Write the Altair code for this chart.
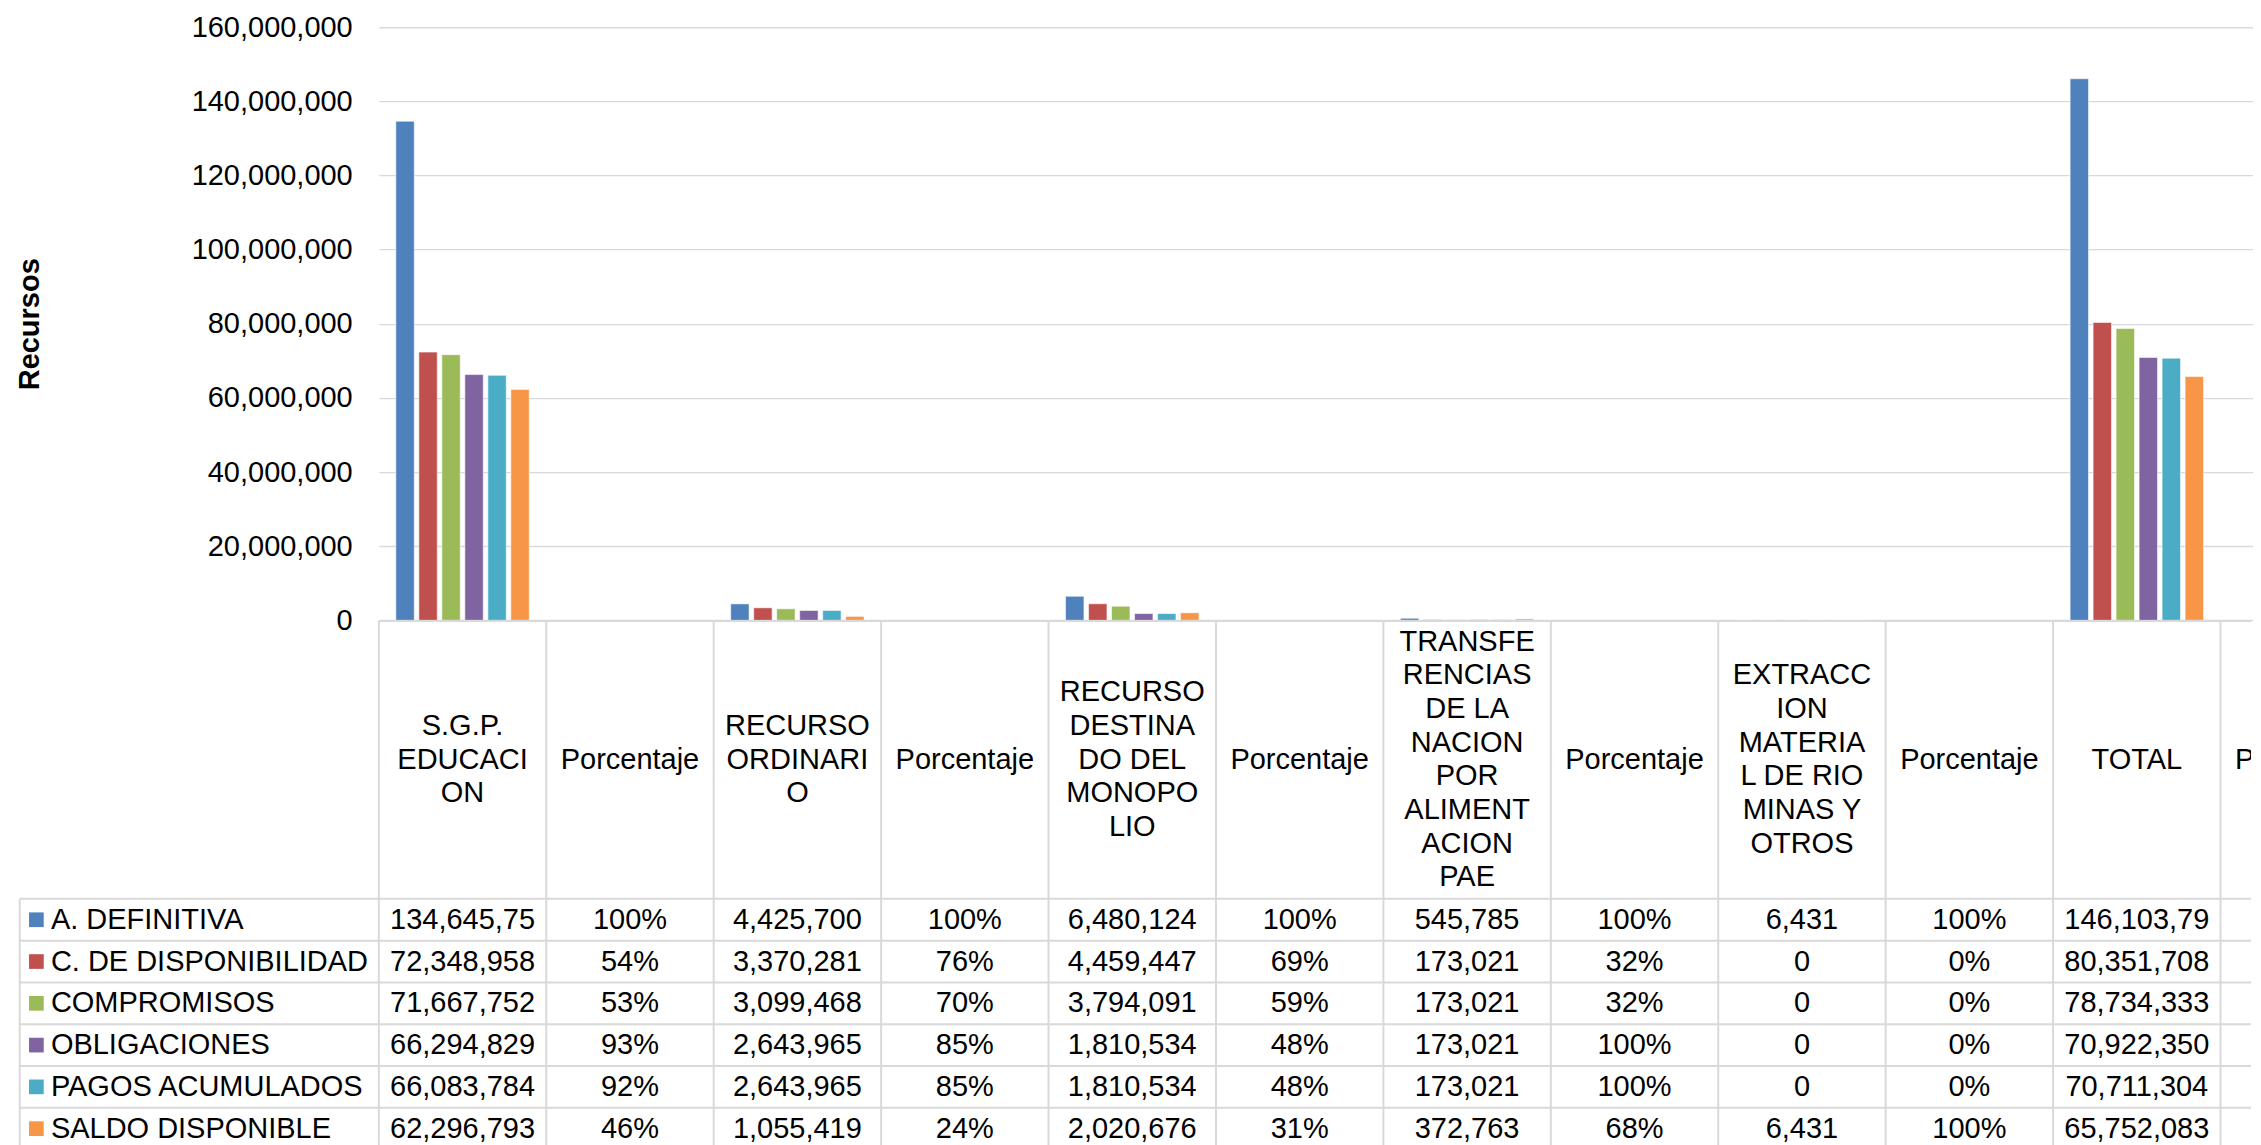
import altair as alt
import pandas as pd

# ---------------- data ----------------
cat_ids = [f"c{i}" for i in range(12)]
cat_labels = [
    "S.G.P.\nEDUCACI\nON", "Porcentaje",
    "RECURSO\nORDINARI\nO", "Porcentaje",
    "RECURSO\nDESTINA\nDO DEL\nMONOPO\nLIO", "Porcentaje",
    "TRANSFE\nRENCIAS\nDE LA\nNACION\nPOR\nALIMENT\nACION\nPAE", "Porcentaje",
    "EXTRACC\nION\nMATERIA\nL DE RIO\nMINAS Y\nOTROS", "Porcentaje",
    "TOTAL", "Porcentaje",
]
series = ["A. DEFINITIVA", "C. DE DISPONIBILIDAD", "COMPROMISOS",
          "OBLIGACIONES", "PAGOS ACUMULADOS", "SALDO DISPONIBLE"]
colors = ["#4F81BD", "#C0504D", "#9BBB59", "#8064A2", "#4BACC6", "#F79646"]

sgp = [134645750, 72348958, 71667752, 66294829, 66083784, 62296793]
ordinario = [4425700, 3370281, 3099468, 2643965, 2643965, 1055419]
destinado = [6480124, 4459447, 3794091, 1810534, 1810534, 2020676]
pae = [545785, 173021, 173021, 173021, 173021, 372763]
extraccion = [6431, 0, 0, 0, 0, 6431]
total = [146103790, 80351708, 78734333, 70922350, 70711304, 65752083]

pct_sgp = ["100%", "54%", "53%", "93%", "92%", "46%"]
pct_ord = ["100%", "76%", "70%", "85%", "85%", "24%"]
pct_dest = ["100%", "69%", "59%", "48%", "48%", "31%"]
pct_pae = ["100%", "32%", "32%", "100%", "100%", "68%"]
pct_ext = ["100%", "0%", "0%", "0%", "0%", "100%"]
pct_tot = ["100%", "55%", "54%", "90%", "90%", "45%"]

y_ticks = [0, 20000000, 40000000, 60000000, 80000000, 100000000,
           120000000, 140000000, 160000000]

value_cols = {"c0": sgp, "c2": ordinario, "c4": destinado,
              "c6": pae, "c8": extraccion, "c10": total}
pct_cols = {"c1": pct_sgp, "c3": pct_ord, "c5": pct_dest,
            "c7": pct_pae, "c9": pct_ext, "c11": pct_tot}

# ---------------- layout constants ----------------
FONT = "Liberation Sans"
FS = 29
LINE_H = 33.7
GRID = "#D9D9D9"
FULL_W = 2010          # width of the 12 table columns
W = 1873               # visible plot width (the chart is cut at the window edge)
H_BARS = 593.3
H_HEAD = 277.3
ROW_H = 41.8
H_ROWS = ROW_H * 6
LEG_W = 359.3

# ---------------- tables ----------------
bar_rows = []
for cid, vals in value_cols.items():
    for s, v in zip(series, vals):
        bar_rows.append({"cat": cid, "serie": s, "valor": v})
df_bars = pd.DataFrame(bar_rows)

df_header = pd.DataFrame({
    "cat": cat_ids,
    "label": cat_labels,
    "fila": "h",
    "n": [lbl.count("\n") + 1 for lbl in cat_labels],
})

cell_rows = []
for cid in cat_ids:
    if cid in value_cols:
        texts = [f"{v:,}"[:10] for v in value_cols[cid]]  # Excel clips wide cells
    else:
        texts = pct_cols[cid]
    for s, t in zip(series, texts):
        cell_rows.append({"cat": cid, "serie": s, "texto": t})
df_cells = pd.DataFrame(cell_rows)
df_cats = pd.DataFrame({"cat": cat_ids})
df_series = pd.DataFrame({"serie": series})

x_scale = alt.Scale(domain=cat_ids, range=[0, FULL_W], paddingInner=0, paddingOuter=0)
y_rows_scale = alt.Scale(domain=series, paddingInner=0, paddingOuter=0)
color_scale = alt.Scale(domain=series, range=colors)

# ---------------- bar chart ----------------
bars = alt.Chart(df_bars).mark_bar(stroke="white", strokeWidth=0.8, strokeOpacity=0.7).encode(
    x=alt.X("cat:N", scale=x_scale, axis=None),
    xOffset=alt.XOffset("serie:N", sort=series,
                        scale=alt.Scale(domain=series, paddingInner=0.2, paddingOuter=0.74)),
    y=alt.Y("valor:Q", scale=alt.Scale(domain=[0, 160000000]),
            axis=alt.Axis(values=y_ticks, format=",d", grid=True, gridColor=GRID,
                          gridWidth=1.3, domain=False, ticks=False, labelPadding=26.6,
                          labelFontSize=FS, labelFont=FONT, labelColor="black",
                          title="Recursos", titleFont=FONT, titleFontSize=FS,
                          titleFontWeight="bold", titleColor="black",
                          titleX=-349, titleY=H_BARS / 2, titleAngle=270,
                          titleAlign="center", titleBaseline="middle")),
    color=alt.Color("serie:N", scale=color_scale, legend=None),
).properties(width=W, height=H_BARS)

# ---------------- header row ----------------
head_layers = []
head_layers.append(alt.Chart(df_cats).mark_rule(color=GRID, strokeWidth=2).encode(
    x=alt.X("cat:N", scale=x_scale, bandPosition=0, axis=None),
    y=alt.value(0), y2=alt.value(H_HEAD),
))
head_layers.append(alt.Chart(df_cats.head(1)).mark_rule(color=GRID, strokeWidth=2).encode(
    x=alt.value(0), x2=alt.value(W), y=alt.value(0),
))
# one text layer per line count, so each multi-line block is vertically centred
for n in sorted(df_header["n"].unique()):
    head_layers.append(
        alt.Chart(df_header).transform_filter(alt.datum.n == int(n)).mark_text(
            lineBreak="\n", lineHeight=LINE_H, fontSize=FS, font=FONT, color="black",
            align="center", baseline="middle", clip=True, dy=-(int(n) - 1) * LINE_H / 2
        ).encode(
            x=alt.X("cat:N", scale=x_scale, axis=None),
            y=alt.Y("fila:N", axis=None),
            text="label:N",
        )
    )
header = alt.layer(*head_layers).properties(width=W, height=H_HEAD)

# ---------------- data rows ----------------
row_hlines = alt.Chart(df_series).mark_rule(color=GRID, strokeWidth=2).encode(
    y=alt.Y("serie:N", sort=series, scale=y_rows_scale, bandPosition=0),
    x=alt.value(-LEG_W), x2=alt.value(W),
)
row_vlines = alt.Chart(df_cats).mark_rule(color=GRID, strokeWidth=2).encode(
    x=alt.X("cat:N", scale=x_scale, bandPosition=0, axis=None),
    y=alt.value(0), y2=alt.value(H_ROWS),
)
leg_border = alt.Chart(df_cats.head(1)).mark_rule(color=GRID, strokeWidth=2).encode(
    x=alt.value(-LEG_W), y=alt.value(0), y2=alt.value(H_ROWS),
)
cells = alt.Chart(df_cells).mark_text(
    fontSize=FS, font=FONT, color="black", align="center", baseline="middle", clip=True
).encode(
    x=alt.X("cat:N", scale=x_scale, axis=None),
    y=alt.Y("serie:N", sort=series, scale=y_rows_scale,
            axis=alt.Axis(grid=False, domain=False, ticks=False, labelAlign="left",
                          labelBaseline="middle", labelPadding=328.6, labelLimit=400,
                          labelFontSize=FS, labelFont=FONT, labelColor="black",
                          title=None)),
    text="texto:N",
)
swatches = alt.Chart(df_series).mark_square(size=216, opacity=1).encode(
    x=alt.value(-342.6),
    y=alt.Y("serie:N", sort=series, scale=y_rows_scale),
    color=alt.Color("serie:N", scale=color_scale, legend=None),
)

rows = alt.layer(row_hlines, row_vlines, leg_border, cells, swatches).properties(
    width=W, height=H_ROWS)

chart = alt.vconcat(bars, header, rows, spacing=0, bounds="flush").properties(
    padding={"left": 7, "top": 4, "right": 0, "bottom": 0}
).configure_view(stroke="transparent")

chart.save("out.html", embed_options={"renderer": "svg", "actions": False})
